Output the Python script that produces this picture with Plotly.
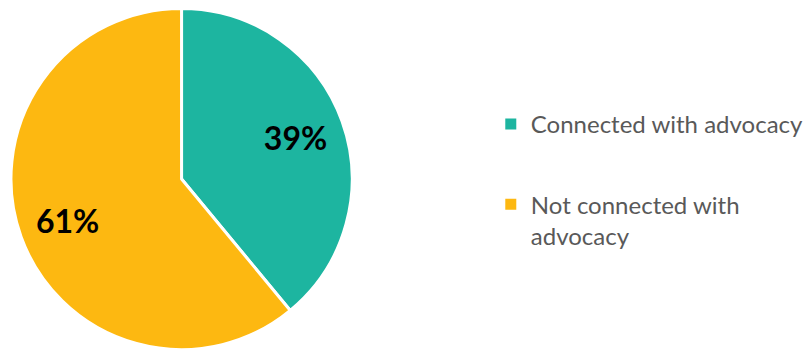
import plotly.graph_objects as go

categories = ["Connected with advocacy", "Not connected with advocacy"]
values = [39, 61]
colors = ["#1DB5A0", "#FDB811"]
legend_names = ["Connected with advocacy", "Not connected with<br>advocacy"]

W, H = 809, 350
pie_domain = dict(x=[11 / W, 353 / W], y=[0, 342 / H])

fig = go.Figure()

# coloured slices
fig.add_trace(go.Pie(
    labels=categories, values=values, sort=False, direction="clockwise", rotation=0,
    marker=dict(colors=colors, line=dict(color="white", width=3)),
    textinfo="none", hoverinfo="label+percent", showlegend=False,
    domain=pie_domain,
))
# percentage labels (placed in a ring, same data)
fig.add_trace(go.Pie(
    labels=categories, values=values, sort=False, direction="clockwise", rotation=0,
    hole=0.42,
    marker=dict(colors=["rgba(0,0,0,0)"] * len(values), line=dict(width=0)),
    texttemplate="%{percent:.0%}", textposition="inside",
    insidetextorientation="horizontal",
    textfont=dict(family="Lato", size=32, color="black", weight="bold"),
    hoverinfo="skip", showlegend=False,
    domain=pie_domain,
))

# legend entries
for i, (name, col) in enumerate(zip(legend_names, colors)):
    fig.add_trace(go.Scatter(
        x=[None], y=[None], mode="markers", name=name,
        marker=dict(symbol="square", size=11, color=col),
        legendgroup=f"g{i}", showlegend=True,
    ))

fig.update_xaxes(visible=False)
fig.update_yaxes(visible=False)
fig.update_layout(
    width=W, height=H,
    margin=dict(l=0, r=0, t=0, b=0),
    paper_bgcolor="white",
    plot_bgcolor="white",
    legend=dict(
        x=492 / W, y=1 - 102 / H, xanchor="left", yanchor="top",
        font=dict(family="Lato", size=24, color="#595959"),
        valign="top",
        itemwidth=30,
        tracegroupgap=46,
        traceorder="grouped",
    ),
)

fig.write_html("out.html")
